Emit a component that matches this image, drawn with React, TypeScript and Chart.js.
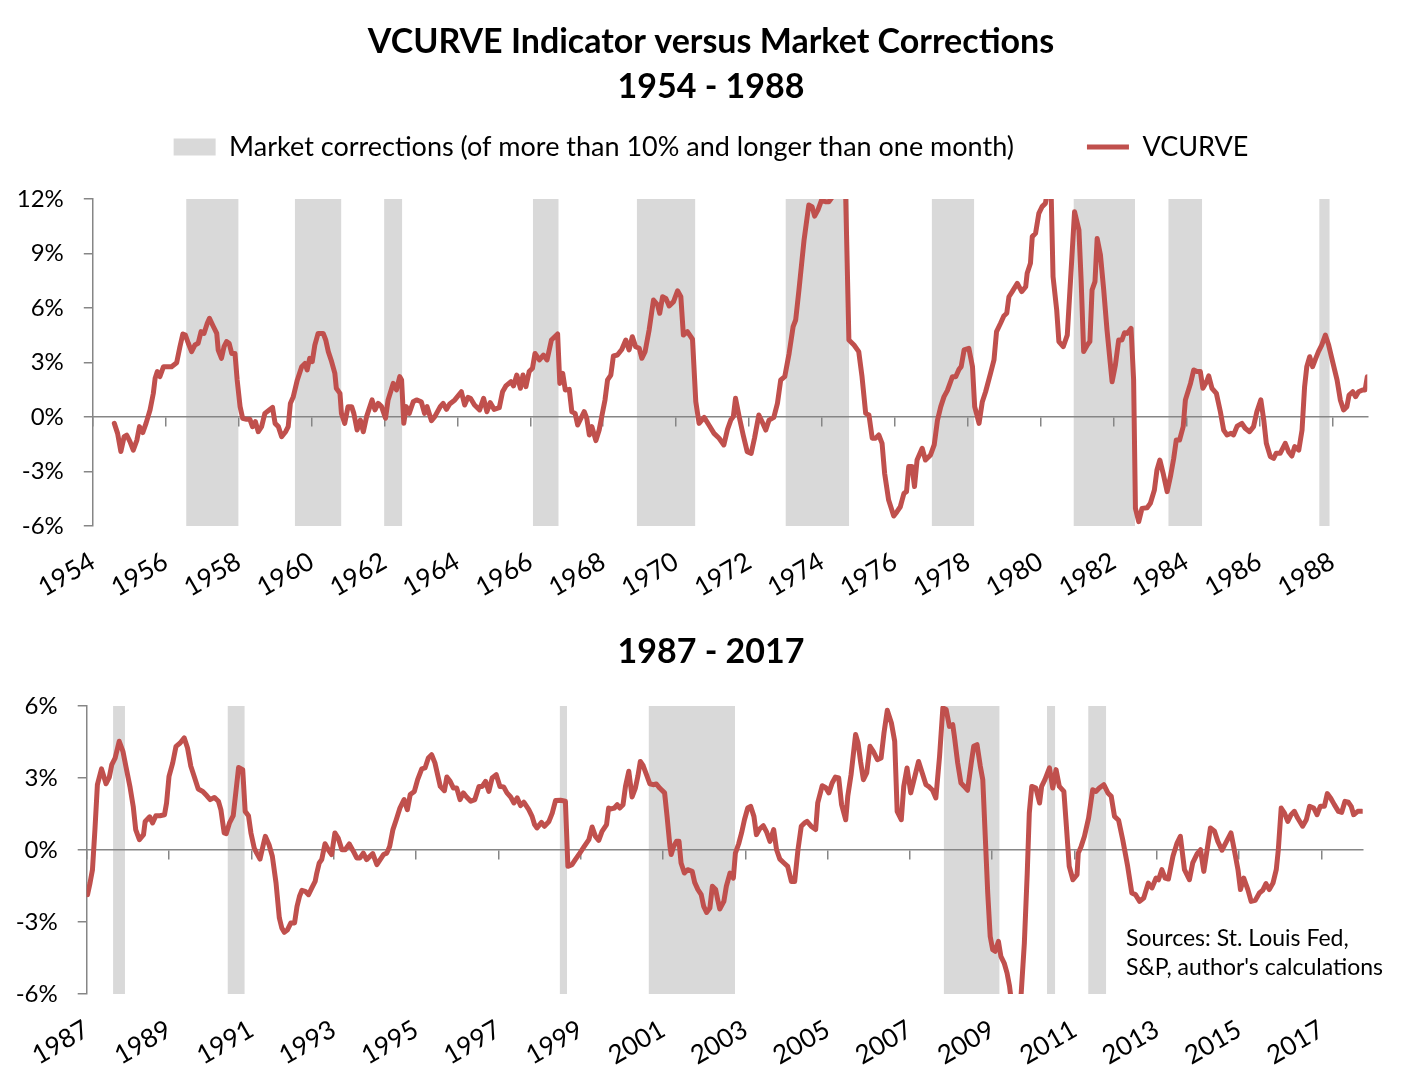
import React, { useEffect, useRef } from 'react';
import { Chart, registerables } from 'chart.js';

Chart.register(...registerables);

const FONT = "Lato, 'Liberation Sans', sans-serif";
const RED = '#C0504D';
const BAND = '#D9D9D9';
const AXIS = '#868686';

const TITLE_LINES = ['VCURVE Indicator versus Market Corrections', '1954 - 1988'];
const BOTTOM_TITLE = ['1987 - 2017'];
const LINE_LABEL = 'VCURVE';
const BAND_LABEL = 'Market corrections (of more than 10% and longer than one month)';
const SOURCES = ['Sources: St. Louis Fed,', "S&P, author's calculations"];

// ---------- Top panel: 1954 - 1988 ----------
const topYears = [
  1954.59, 1954.68, 1954.77, 1954.86, 1954.93, 1955.02, 1955.11, 1955.21, 1955.28, 1955.37,
  1955.46, 1955.57, 1955.66, 1955.71, 1955.77, 1955.84, 1955.94, 1956.03, 1956.16, 1956.30,
  1956.39, 1956.47, 1956.54, 1956.62, 1956.71, 1956.80, 1956.89, 1956.97, 1957.05, 1957.14,
  1957.20, 1957.31, 1957.40, 1957.44, 1957.53, 1957.60, 1957.67, 1957.74, 1957.81, 1957.90,
  1957.96, 1958.04, 1958.11, 1958.22, 1958.31, 1958.38, 1958.46, 1958.54, 1958.63, 1958.72,
  1958.84, 1958.93, 1959.00, 1959.09, 1959.18, 1959.29, 1959.36, 1959.42, 1959.50, 1959.61,
  1959.73, 1959.82, 1959.88, 1959.95, 1960.02, 1960.09, 1960.18, 1960.32, 1960.39, 1960.46,
  1960.55, 1960.64, 1960.68, 1960.78, 1960.82, 1960.91, 1961.00, 1961.10, 1961.16, 1961.25,
  1961.34, 1961.42, 1961.51, 1961.66, 1961.74, 1961.83, 1961.92, 1962.03, 1962.10, 1962.24,
  1962.33, 1962.42, 1962.47, 1962.53, 1962.60, 1962.68, 1962.79, 1962.88, 1963.01, 1963.10,
  1963.17, 1963.29, 1963.38, 1963.53, 1963.61, 1963.70, 1963.79, 1963.93, 1964.11, 1964.20,
  1964.29, 1964.36, 1964.47, 1964.61, 1964.72, 1964.81, 1964.90, 1965.01, 1965.15, 1965.24,
  1965.33, 1965.47, 1965.54, 1965.63, 1965.73, 1965.80, 1965.88, 1965.97, 1966.06, 1966.13,
  1966.25, 1966.36, 1966.46, 1966.58, 1966.75, 1966.81, 1966.89, 1966.96, 1967.07, 1967.14,
  1967.23, 1967.30, 1967.39, 1967.48, 1967.55, 1967.62, 1967.69, 1967.80, 1967.89, 1967.96,
  1968.05, 1968.12, 1968.21, 1968.28, 1968.39, 1968.51, 1968.62, 1968.71, 1968.80, 1968.89,
  1968.99, 1969.06, 1969.15, 1969.26, 1969.38, 1969.49, 1969.55, 1969.63, 1969.72, 1969.81,
  1969.93, 1970.04, 1970.13, 1970.20, 1970.31, 1970.45, 1970.54, 1970.63, 1970.77, 1970.90,
  1971.04, 1971.18, 1971.31, 1971.41, 1971.50, 1971.57, 1971.63, 1971.73, 1971.84, 1971.95,
  1972.06, 1972.15, 1972.27, 1972.36, 1972.46, 1972.55, 1972.68, 1972.78, 1972.87, 1972.98,
  1973.10, 1973.21, 1973.28, 1973.37, 1973.51, 1973.64, 1973.73, 1973.80, 1973.89, 1973.99,
  1974.10, 1974.19, 1974.28, 1974.40, 1974.52, 1974.64, 1974.74, 1974.88, 1975.01, 1975.10,
  1975.20, 1975.29, 1975.38, 1975.47, 1975.56, 1975.65, 1975.72, 1975.83, 1975.97, 1976.06,
  1976.15, 1976.25, 1976.32, 1976.38, 1976.47, 1976.54, 1976.61, 1976.75, 1976.84, 1976.98,
  1977.08, 1977.17, 1977.26, 1977.35, 1977.44, 1977.58, 1977.67, 1977.76, 1977.82, 1977.90,
  1978.03, 1978.13, 1978.19, 1978.31, 1978.40, 1978.49, 1978.63, 1978.72, 1978.79, 1978.90,
  1978.99, 1979.07, 1979.13, 1979.22, 1979.36, 1979.48, 1979.59, 1979.63, 1979.72, 1979.77,
  1979.86, 1979.95, 1980.04, 1980.13, 1980.20, 1980.28, 1980.34, 1980.44, 1980.50, 1980.62,
  1980.73, 1980.82, 1980.93, 1981.05, 1981.11, 1981.18, 1981.28, 1981.35, 1981.41, 1981.49,
  1981.55, 1981.64, 1981.73, 1981.82, 1981.96, 1982.05, 1982.14, 1982.23, 1982.30, 1982.37,
  1982.48, 1982.55, 1982.60, 1982.69, 1982.78, 1982.92, 1983.01, 1983.12, 1983.19, 1983.27,
  1983.36, 1983.47, 1983.56, 1983.65, 1983.72, 1983.81, 1983.91, 1983.97, 1984.11, 1984.20,
  1984.29, 1984.38, 1984.45, 1984.55, 1984.61, 1984.70, 1984.82, 1984.93, 1985.02, 1985.11,
  1985.22, 1985.29, 1985.39, 1985.52, 1985.61, 1985.73, 1985.84, 1985.93, 1986.04, 1986.12,
  1986.19, 1986.30, 1986.39, 1986.46, 1986.57, 1986.71, 1986.80, 1986.89, 1986.97, 1987.08,
  1987.17, 1987.24, 1987.30, 1987.38, 1987.46, 1987.53, 1987.62, 1987.71, 1987.81, 1987.90,
  1988.02, 1988.13, 1988.22, 1988.31, 1988.40, 1988.46, 1988.56, 1988.64, 1988.72, 1988.83,
  1988.90, 1988.96,
];
const topValues = [
  -0.35, -0.90, -1.90, -1.08, -1.00, -1.36, -1.82, -1.27, -0.53, -0.86,
  -0.35, 0.39, 1.30, 2.13, 2.50, 2.22, 2.77, 2.77, 2.77, 2.99,
  3.87, 4.57, 4.51, 4.06, 3.60, 3.96, 4.06, 4.70, 4.60, 5.16,
  5.43, 4.97, 4.60, 3.69, 3.23, 3.87, 4.15, 4.06, 3.50, 3.50,
  2.04, 0.57, -0.07, -0.13, -0.13, -0.53, -0.26, -0.81, -0.53, 0.20,
  0.39, 0.53, -0.35, -0.53, -1.08, -0.81, -0.53, 0.75, 1.12, 2.04,
  2.77, 2.95, 2.59, 3.23, 3.05, 3.96, 4.60, 4.60, 4.24, 3.60,
  3.05, 2.40, 1.58, 1.30, 0.20, -0.35, 0.57, 0.57, 0.20, -0.72,
  -0.17, -0.81, 0.02, 0.94, 0.39, 0.75, 0.57, -0.07, 0.94, 1.85,
  1.49, 2.22, 2.04, -0.35, 0.57, 0.20, 0.84, 0.94, 0.84, 0.20,
  0.57, -0.20, 0.02, 0.57, 0.75, 0.42, 0.72, 0.94, 1.39, 0.66,
  1.08, 1.03, 0.66, 0.39, 1.03, 0.29, 0.79, 0.42, 0.51, 1.39,
  1.71, 1.94, 1.71, 2.31, 1.58, 2.31, 1.67, 2.50, 2.68, 3.50,
  3.14, 3.41, 3.14, 4.24, 4.57, 1.85, 2.40, 1.49, 1.52, 0.29,
  0.20, -0.44, -0.07, 0.29, -0.07, -0.99, -0.53, -1.30, -0.72, 0.02,
  0.94, 2.04, 2.31, 3.36, 3.41, 3.72, 4.24, 3.69, 4.42, 3.87,
  3.78, 3.23, 3.60, 4.79, 6.44, 6.17, 5.71, 6.62, 6.53, 6.11,
  6.35, 6.95, 6.62, 4.51, 4.70, 4.28, 0.84, -0.35, -0.02, -0.44,
  -0.90, -1.17, -1.54, -0.68, -0.17, 0.02, 1.03, 0.02, -0.99, -1.91,
  -2.00, -1.17, 0.11, -0.26, -0.72, -0.17, -0.02, 0.75, 2.04, 2.22,
  3.50, 4.97, 5.34, 6.99, 9.74, 11.67, 11.58, 11.06, 11.39, 11.94,
  11.85, 11.85, 12.10, 13.00, 13.60, 13.20, 4.24, 3.96, 3.60, 2.22,
  0.20, 0.11, -1.17, -1.17, -0.99, -1.45, -3.10, -4.57, -5.45, -5.21,
  -4.94, -4.20, -4.11, -2.73, -2.73, -3.83, -2.37, -1.72, -2.37, -2.09,
  -1.54, -0.17, 0.57, 1.12, 1.45, 2.22, 2.22, 2.62, 2.77, 3.69,
  3.78, 2.77, 0.57, -0.35, 0.84, 1.39, 2.44, 3.14, 4.70, 5.16,
  5.56, 5.71, 6.62, 6.90, 7.36, 6.90, 7.17, 7.91, 8.46, 9.93,
  10.11, 11.21, 11.58, 11.76, 12.60, 13.00, 7.72, 5.89, 4.15, 3.87,
  4.51, 7.54, 11.30, 10.29, 7.54, 3.60, 3.96, 4.15, 6.99, 7.45,
  9.83, 8.92, 6.99, 4.79, 1.94, 2.86, 4.24, 4.24, 4.64, 4.60,
  4.88, 2.04, -5.03, -5.76, -5.03, -4.99, -4.75, -4.02, -2.92, -2.37,
  -3.10, -4.11, -3.28, -2.28, -1.27, -1.27, -0.53, 0.94, 1.85, 2.59,
  2.50, 2.50, 1.58, 1.94, 2.26, 1.58, 1.30, 0.29, -0.72, -0.99,
  -0.90, -0.99, -0.50, -0.35, -0.62, -0.81, -0.53, 0.29, 0.94, -0.17,
  -1.45, -2.18, -2.28, -2.00, -2.00, -1.45, -1.91, -2.15, -1.63, -1.82,
  -0.72, 1.67, 2.77, 3.32, 2.77, 3.14, 3.60, 3.96, 4.51, 3.96,
  2.95, 2.04, 0.94, 0.39, 0.57, 1.21, 1.39, 1.12, 1.39, 1.49,
  1.49, 2.22,
];
const topCorrStart = [1956.56, 1959.54, 1961.99, 1966.07, 1968.92, 1973.0, 1977.01, 1980.9, 1983.5, 1987.64];
const topCorrEnd = [1958.0, 1960.82, 1962.49, 1966.78, 1970.53, 1974.75, 1978.18, 1982.59, 1984.43, 1987.93];
const topXTicks = [1954, 1956, 1958, 1960, 1962, 1964, 1966, 1968, 1970, 1972, 1974, 1976, 1978, 1980, 1982, 1984, 1986, 1988];
const topYTicks = [-6, -3, 0, 3, 6, 9, 12];

// ---------- Bottom panel: 1987 - 2017 ----------
const bottomYears = [
  1987.02, 1987.08, 1987.14, 1987.20, 1987.26, 1987.36, 1987.47, 1987.55, 1987.61, 1987.69,
  1987.79, 1987.88, 1987.96, 1988.05, 1988.13, 1988.19, 1988.28, 1988.38, 1988.42, 1988.53,
  1988.60, 1988.68, 1988.78, 1988.89, 1988.94, 1989.00, 1989.09, 1989.17, 1989.27, 1989.37,
  1989.45, 1989.53, 1989.61, 1989.71, 1989.82, 1989.92, 1990.00, 1990.10, 1990.20, 1990.26,
  1990.34, 1990.39, 1990.47, 1990.56, 1990.63, 1990.69, 1990.79, 1990.85, 1990.93, 1990.99,
  1991.07, 1991.13, 1991.21, 1991.29, 1991.34, 1991.43, 1991.51, 1991.60, 1991.68, 1991.74,
  1991.80, 1991.88, 1991.96, 1992.05, 1992.11, 1992.17, 1992.23, 1992.31, 1992.39, 1992.47,
  1992.55, 1992.59, 1992.65, 1992.71, 1992.79, 1992.87, 1992.95, 1993.03, 1993.11, 1993.20,
  1993.28, 1993.38, 1993.48, 1993.56, 1993.64, 1993.72, 1993.80, 1993.95, 1994.05, 1994.13,
  1994.21, 1994.29, 1994.36, 1994.44, 1994.52, 1994.61, 1994.71, 1994.79, 1994.86, 1994.96,
  1995.04, 1995.14, 1995.22, 1995.30, 1995.38, 1995.46, 1995.59, 1995.69, 1995.75, 1995.83,
  1995.91, 1995.99, 1996.07, 1996.15, 1996.23, 1996.33, 1996.43, 1996.53, 1996.61, 1996.69,
  1996.77, 1996.85, 1996.95, 1997.04, 1997.13, 1997.21, 1997.30, 1997.38, 1997.46, 1997.54,
  1997.62, 1997.74, 1997.82, 1997.88, 1997.94, 1998.05, 1998.12, 1998.23, 1998.31, 1998.39,
  1998.51, 1998.63, 1998.69, 1998.79, 1998.87, 1998.98, 1999.08, 1999.20, 1999.28, 1999.36,
  1999.44, 1999.52, 1999.63, 1999.68, 1999.74, 1999.82, 1999.89, 1999.95, 2000.03, 2000.09,
  2000.17, 2000.25, 2000.33, 2000.39, 2000.45, 2000.52, 2000.60, 2000.68, 2000.76, 2000.84,
  2000.92, 2001.04, 2001.10, 2001.17, 2001.20, 2001.26, 2001.33, 2001.39, 2001.44, 2001.52,
  2001.60, 2001.71, 2001.77, 2001.85, 2001.93, 2001.99, 2002.06, 2002.14, 2002.20, 2002.28,
  2002.33, 2002.38, 2002.48, 2002.54, 2002.63, 2002.71, 2002.76, 2002.84, 2002.91, 2002.98,
  2003.06, 2003.13, 2003.21, 2003.27, 2003.35, 2003.44, 2003.52, 2003.60, 2003.69, 2003.76,
  2003.84, 2003.94, 2004.03, 2004.12, 2004.20, 2004.28, 2004.36, 2004.44, 2004.50, 2004.60,
  2004.71, 2004.76, 2004.87, 2004.95, 2005.03, 2005.11, 2005.19, 2005.27, 2005.34, 2005.44,
  2005.49, 2005.57, 2005.68, 2005.74, 2005.80, 2005.87, 2005.95, 2006.03, 2006.11, 2006.21,
  2006.30, 2006.37, 2006.45, 2006.55, 2006.63, 2006.69, 2006.79, 2006.85, 2006.93, 2007.02,
  2007.10, 2007.21, 2007.39, 2007.47, 2007.55, 2007.63, 2007.72, 2007.80, 2007.88, 2007.96,
  2008.04, 2008.08, 2008.16, 2008.24, 2008.32, 2008.40, 2008.49, 2008.55, 2008.63, 2008.71,
  2008.77, 2008.83, 2008.89, 2008.95, 2009.01, 2009.07, 2009.15, 2009.21, 2009.29, 2009.36,
  2009.42, 2009.50, 2009.60, 2009.68, 2009.78, 2009.85, 2009.90, 2009.96, 2010.06, 2010.15,
  2010.20, 2010.28, 2010.39, 2010.47, 2010.55, 2010.63, 2010.74, 2010.79, 2010.87, 2010.96,
  2011.06, 2011.09, 2011.16, 2011.24, 2011.34, 2011.44, 2011.52, 2011.60, 2011.71, 2011.81,
  2011.89, 2011.97, 2012.07, 2012.17, 2012.29, 2012.39, 2012.48, 2012.58, 2012.68, 2012.79,
  2012.88, 2012.98, 2013.04, 2013.12, 2013.20, 2013.28, 2013.39, 2013.49, 2013.57, 2013.67,
  2013.79, 2013.87, 2013.98, 2014.06, 2014.14, 2014.22, 2014.30, 2014.40, 2014.48, 2014.58,
  2014.68, 2014.80, 2014.88, 2014.97, 2015.03, 2015.11, 2015.21, 2015.29, 2015.39, 2015.49,
  2015.57, 2015.65, 2015.73, 2015.82, 2015.90, 2015.95, 2016.02, 2016.10, 2016.18, 2016.26,
  2016.34, 2016.42, 2016.54, 2016.63, 2016.71, 2016.81, 2016.89, 2016.97, 2017.07, 2017.14,
  2017.22, 2017.31, 2017.41, 2017.49, 2017.57, 2017.65, 2017.72, 2017.78, 2017.88, 2017.98,
];
const bottomValues = [
  -1.86, -1.38, -0.82, 0.85, 2.72, 3.38, 2.76, 3.04, 3.56, 3.83,
  4.53, 4.11, 3.42, 2.65, 1.82, 0.85, 0.43, 0.64, 1.19, 1.38,
  1.13, 1.43, 1.43, 1.47, 1.96, 3.07, 3.63, 4.32, 4.46, 4.67,
  4.25, 3.49, 3.07, 2.54, 2.44, 2.26, 2.10, 2.19, 2.03, 1.68,
  0.71, 0.68, 1.13, 1.43, 2.51, 3.44, 3.35, 1.61, 1.43, 0.71,
  0.08, -0.13, -0.38, 0.22, 0.57, 0.22, -0.26, -1.38, -2.83, -3.25,
  -3.43, -3.32, -3.04, -3.04, -2.35, -1.93, -1.68, -1.72, -1.86, -1.58,
  -1.31, -0.96, -0.54, -0.40, 0.26, 0.01, -0.19, 0.71, 0.50, 0.01,
  0.01, 0.25, -0.06, -0.33, -0.33, -0.13, -0.40, -0.15, -0.61, -0.40,
  -0.19, -0.13, 0.15, 0.85, 1.26, 1.75, 2.10, 1.68, 2.31, 2.44,
  2.93, 3.38, 3.42, 3.83, 3.97, 3.63, 2.65, 2.47, 3.04, 2.86,
  2.58, 2.58, 2.10, 2.38, 2.21, 2.03, 2.10, 2.65, 2.65, 2.86,
  2.44, 3.00, 3.14, 2.65, 2.63, 2.38, 2.21, 1.96, 2.17, 1.85,
  1.99, 1.68, 1.40, 1.06, 0.92, 1.15, 0.99, 1.19, 1.54, 2.06,
  2.07, 2.03, -0.68, -0.61, -0.40, -0.13, 0.13, 0.43, 0.96, 0.57,
  0.40, 0.78, 1.06, 1.75, 1.71, 1.75, 1.89, 1.75, 1.89, 2.65,
  3.28, 2.21, 2.58, 3.07, 3.69, 3.51, 3.14, 2.76, 2.72, 2.75,
  2.58, 2.38, 1.40, 0.15, -0.19, 0.15, 0.36, 0.36, -0.54, -0.96,
  -0.82, -0.89, -1.35, -1.65, -1.86, -2.35, -2.60, -2.42, -1.51, -1.65,
  -2.07, -2.46, -2.14, -1.51, -0.96, -1.17, -0.13, 0.26, 0.71, 1.26,
  1.75, 1.82, 1.40, 0.64, 0.88, 1.01, 0.74, 0.36, 0.85, 0.01,
  -0.38, -0.54, -0.68, -1.31, -1.31, 0.01, 0.99, 1.13, 1.19, 0.99,
  0.85, 1.96, 2.68, 2.61, 2.38, 2.79, 3.04, 3.00, 1.89, 1.26,
  2.24, 3.14, 4.81, 4.46, 3.69, 2.93, 3.21, 4.32, 4.11, 3.76,
  3.83, 4.88, 5.82, 5.29, 4.53, 1.61, 1.26, 2.65, 3.42, 2.38,
  2.93, 3.69, 2.72, 2.63, 2.49, 2.17, 3.90, 5.92, 5.85, 5.15,
  5.22, 4.74, 3.63, 2.79, 2.65, 2.49, 3.63, 4.32, 4.39, 3.49,
  2.93, 0.57, -1.79, -3.60, -4.15, -4.22, -3.81, -4.43, -4.71, -5.13,
  -5.68, -6.80, -7.20, -6.60, -3.88, -0.96, 1.54, 2.65, 2.58, 1.96,
  2.65, 2.93, 3.42, 2.58, 3.35, 2.65, 2.44, 1.26, -0.68, -1.24,
  -1.03, -0.13, 0.15, 0.57, 1.33, 2.51, 2.44, 2.58, 2.72, 2.38,
  2.24, 1.40, 1.24, 0.43, -0.68, -1.79, -1.86, -2.14, -2.00, -1.38,
  -1.58, -1.17, -1.24, -0.82, -1.17, -1.21, -0.26, 0.29, 0.57, -0.82,
  -1.24, -0.54, -0.15, 0.01, -0.89, 0.01, 0.92, 0.78, 0.36, -0.01,
  0.32, 0.71, 0.01, -0.82, -1.65, -1.17, -1.65, -2.14, -2.10, -1.79,
  -1.68, -1.40, -1.65, -1.38, -0.82, 0.01, 1.75, 1.54, 1.19, 1.47,
  1.61, 1.33, 0.99, 1.26, 1.82, 1.75, 1.47, 1.82, 1.82, 2.35,
  2.17, 1.89, 1.61, 1.57, 2.03, 1.99, 1.82, 1.47, 1.61, 1.61,
];
const bottomCorrStart = [1987.64, 1990.42, 1998.49, 2000.65, 2007.82, 2010.33, 2011.33];
const bottomCorrEnd = [1987.93, 1990.84, 1998.67, 2002.75, 2009.18, 2010.53, 2011.77];
const bottomXTicks = [1987, 1989, 1991, 1993, 1995, 1997, 1999, 2001, 2003, 2005, 2007, 2009, 2011, 2013, 2015, 2017];
const bottomYTicks = [-6, -3, 0, 3, 6];

type PanelOpts = {
  years: number[];
  values: number[];
  corrStart: number[];
  corrEnd: number[];
  xTicks: number[];
  yTicks: number[];
  xMin: number;
  xMax: number;
  yMin: number;
  yMax: number;
  title: string[];
  titlePad: { top: number; bottom: number };
  showLegend: boolean;
  yWidth: number;
  xHeight: number;
  topGap: number;
  padRight: number;
};

function buildConfig(o: PanelOpts): any {
  const line = o.years.map((x, i) => ({ x, y: o.values[i] }));
  const bands: { x: number; y: number | null }[] = [];
  o.corrStart.forEach((s, i) => {
    bands.push({ x: s, y: o.yMax }, { x: o.corrEnd[i], y: o.yMax }, { x: o.corrEnd[i], y: null });
  });
  const setTicks = (vals: number[]) => (scale: any) => {
    scale.ticks = vals.map((v) => ({ value: v }));
  };
  const hidden = {
    grid: { display: false },
    border: { display: false },
    ticks: { display: false },
  };
  return {
    type: 'line',
    data: {
      datasets: [
        {
          label: BAND_LABEL,
          data: bands,
          borderColor: 'rgba(0,0,0,0)',
          backgroundColor: BAND,
          borderWidth: 0,
          pointRadius: 0,
          pointHoverRadius: 0,
          pointStyle: 'rect',
          fill: 'start',
          spanGaps: false,
          order: 2,
        },
        {
          label: LINE_LABEL,
          data: line,
          borderColor: RED,
          backgroundColor: RED,
          borderWidth: 5,
          pointRadius: 0,
          pointHoverRadius: 0,
          pointStyle: 'line',
          fill: false,
          tension: 0,
          borderJoinStyle: 'round',
          borderCapStyle: 'round',
          order: 1,
        },
      ],
    },
    options: {
      responsive: false,
      animation: false,
      devicePixelRatio: 1,
      events: [],
      layout: { padding: 0 },
      scales: {
        x: {
          type: 'linear',
          position: 'bottom',
          min: o.xMin,
          max: o.xMax,
          afterBuildTicks: setTicks(o.xTicks),
          afterFit: (s: any) => {
            s.height = o.xHeight;
          },
          grid: { display: false },
          border: { display: false },
          ticks: {
            autoSkip: false,
            minRotation: 30,
            maxRotation: 30,
            color: '#000',
            font: { family: FONT, size: 26 },
            padding: 12,
            labelOffset: 0,
            callback: (v: number) => String(v),
          },
        },
        x0: {
          type: 'linear',
          position: { y: 0 },
          min: o.xMin,
          max: o.xMax,
          afterBuildTicks: setTicks(o.xTicks),
          grid: { display: true, drawOnChartArea: false, drawTicks: true, tickLength: 9, color: AXIS, lineWidth: 1.5 },
          border: { display: true, color: AXIS, width: 1.5 },
          ticks: { display: false },
        },
        xt: {
          type: 'linear',
          position: 'top',
          min: o.xMin,
          max: o.xMax,
          afterFit: (s: any) => {
            s.height = o.topGap;
          },
          ...hidden,
        },
        y: {
          type: 'linear',
          position: 'left',
          min: o.yMin,
          max: o.yMax,
          afterBuildTicks: setTicks(o.yTicks),
          afterFit: (s: any) => {
            s.width = o.yWidth;
          },
          grid: { display: true, drawOnChartArea: false, drawTicks: true, tickLength: 9, color: AXIS, lineWidth: 1.5 },
          border: { display: true, color: AXIS, width: 1.5 },
          ticks: {
            color: '#000',
            font: { family: FONT, size: 24 },
            padding: 20,
            callback: (v: number) => v + '%',
          },
        },
        yr: {
          type: 'linear',
          position: 'right',
          min: o.yMin,
          max: o.yMax,
          afterFit: (s: any) => {
            s.width = o.padRight;
          },
          ...hidden,
        },
      },
      plugins: {
        filler: { drawTime: 'beforeDraw' },
        tooltip: { enabled: false },
        title: {
          display: true,
          text: o.title,
          color: '#000',
          font: { family: FONT, size: 34, weight: 'bold', lineHeight: '45px' },
          padding: o.titlePad,
        },
        legend: {
          display: o.showLegend,
          position: 'top',
          labels: {
            usePointStyle: true,
            pointStyleWidth: 42,
            boxHeight: 17,
            padding: 73,
            color: '#000',
            font: { family: FONT, size: 27 },
            sort: (a: any, b: any) => a.datasetIndex - b.datasetIndex,
          },
        },
      },
    },
  };
}

function Panel({ opts, height }: { opts: PanelOpts; height: number }) {
  const ref = useRef<HTMLCanvasElement | null>(null);
  useEffect(() => {
    if (!ref.current) return;
    const chart = new Chart(ref.current, buildConfig(opts));
    return () => chart.destroy();
  }, [opts]);
  return <canvas ref={ref} width={1422} height={height} style={{ display: 'block', width: 1422, height }} />;
}

const topOpts: PanelOpts = {
  years: topYears,
  values: topValues,
  corrStart: topCorrStart,
  corrEnd: topCorrEnd,
  xTicks: topXTicks,
  yTicks: topYTicks,
  xMin: 1954,
  xMax: 1988.96,
  yMin: -6,
  yMax: 12,
  title: TITLE_LINES,
  titlePad: { top: 19.5, bottom: -49 },
  showLegend: true,
  yWidth: 92.8,
  xHeight: 84,
  topGap: 28.5,
  padRight: 54.7,
};

const bottomOpts: PanelOpts = {
  years: bottomYears,
  values: bottomValues,
  corrStart: bottomCorrStart,
  corrEnd: bottomCorrEnd,
  xTicks: bottomXTicks,
  yTicks: bottomYTicks,
  xMin: 1987,
  xMax: 2018,
  yMin: -6,
  yMax: 6,
  title: BOTTOM_TITLE,
  titlePad: { top: 19.5, bottom: 31.5 },
  showLegend: false,
  yWidth: 86.7,
  xHeight: 86,
  topGap: 0,
  padRight: 59.3,
};

export default function App() {
  return (
    <div style={{ position: 'absolute', left: 0, top: 0, width: 1422, height: 1080, background: '#fff', overflow: 'hidden' }}>
      <Panel opts={topOpts} height={610} />
      <Panel opts={bottomOpts} height={470} />
      <div
        style={{
          position: 'absolute',
          left: 1126,
          top: 923,
          fontFamily: FONT,
          fontSize: 23,
          lineHeight: '29px',
          color: '#000',
          whiteSpace: 'nowrap',
        }}
      >
        {SOURCES.map((s) => (
          <div key={s}>{s}</div>
        ))}
      </div>
    </div>
  );
}
